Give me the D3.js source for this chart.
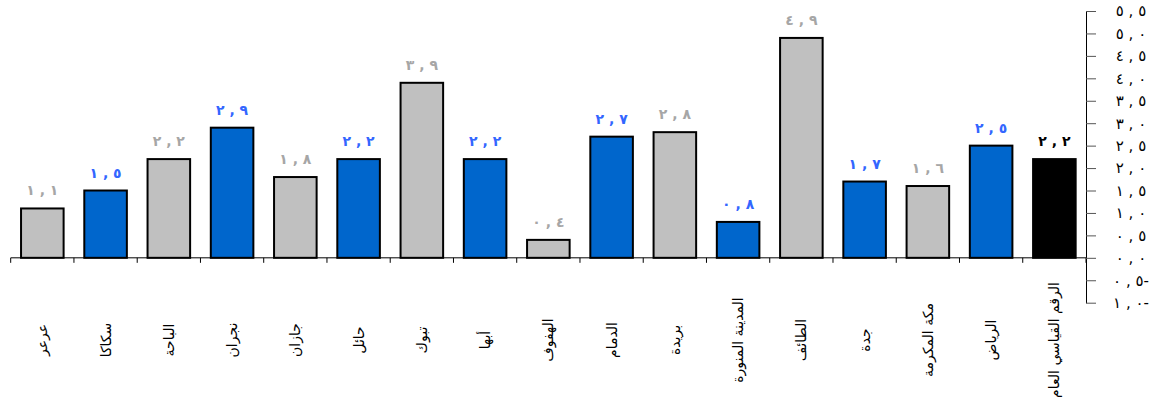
<!DOCTYPE html>
<html>
<head>
<meta charset="utf-8">
<script src="https://cdn.jsdelivr.net/npm/d3@7"></script>
<style>
  body { margin: 0; background: #fff; }
  svg { font-family: "DejaVu Sans", sans-serif; }
  .ltr { direction: ltr; unicode-bidi: bidi-override; }
</style>
</head>
<body>
<div id="chart"></div>
<script>
// data
const categories = ['عرعر', 'سكاكا', 'الباحة', 'نجران', 'جازان', 'حائل', 'تبوك', 'أبها', 'الهفوف',
  'الدمام', 'بريدة', 'المدينة المنورة', 'الطائف', 'جدة', 'مكة المكرمة', 'الرياض', 'الرقم القياسي العام'];
const values = [1.1, 1.5, 2.2, 2.9, 1.8, 2.2, 3.9, 2.2, 0.4, 2.7, 2.8, 0.8, 4.9, 1.7, 1.6, 2.5, 2.2];
const kinds = ['g', 'b', 'g', 'b', 'g', 'b', 'g', 'b', 'g', 'b', 'g', 'b', 'g', 'b', 'g', 'b', 'k'];
const yTicks = [-1, -0.5, 0, 0.5, 1, 1.5, 2, 2.5, 3, 3.5, 4, 4.5, 5, 5.5];

const fill = { g: '#c0c0c0', b: '#0066cc', k: '#000000' };
const labelColor = { g: '#a6a6a6', b: '#3366ff', k: '#000000' };

const width = 1157, height = 414;
const svg = d3.select('#chart').append('svg')
  .attr('width', width).attr('height', height);

const x = d3.scaleBand().domain(categories).range([10.7, 1086]).paddingInner(0.327).paddingOuter(0.1635);
const y = d3.scaleLinear().domain([-1, 5.5]).range([302.7, 11]);

// arabic numerals, comma decimal
const arDigits = '٠١٢٣٤٥٦٧٨٩';
function arNum(v) {
  const s = Math.abs(v).toFixed(1).replace(/\d/g, d => arDigits[+d]).replace('.', ' , ');
  return v < 0 ? s + '-' : s;
}

const rows = categories.map((c, i) => ({ c, v: values[i], k: kinds[i] }));

// bars
svg.selectAll('rect.bar')
  .data(rows).enter().append('rect')
    .attr('class', 'bar')
    .attr('x', d => x(d.c))
    .attr('y', d => y(d.v))
    .attr('width', x.bandwidth())
    .attr('height', d => y(0) - y(d.v))
    .attr('fill', d => fill[d.k])
    .attr('stroke', '#000')
    .attr('stroke-width', 2);

// value labels
svg.selectAll('text.val')
  .data(rows).enter().append('text')
    .attr('class', 'val ltr')
    .attr('x', d => x(d.c) + x.bandwidth() / 2)
    .attr('y', d => y(d.v) - 13)
    .attr('text-anchor', 'middle')
    .attr('font-size', 14)
    .attr('font-weight', 'bold')
    .attr('fill', d => labelColor[d.k])
    .text(d => arNum(d.v));

// x baseline + boundary ticks
const x0 = x.range()[0], x1 = x.range()[1];
svg.append('line')
  .attr('x1', x0).attr('x2', x1)
  .attr('y1', y(0)).attr('y2', y(0))
  .attr('stroke', '#000').attr('stroke-width', 1);
const bounds = categories.map(c => x(c) - x.step() * x.paddingInner() / 2).concat([x1]);
bounds[0] = x0;
svg.selectAll('line.xtick')
  .data(bounds).enter().append('line')
    .attr('class', 'xtick')
    .attr('x1', d => d).attr('x2', d => d)
    .attr('y1', y(0)).attr('y2', y(0) + 5)
    .attr('stroke', '#000');

// category labels, rotated (start of word at top)
svg.selectAll('text.cat')
  .data(rows).enter().append('text')
    .attr('class', 'cat')
    .attr('transform', d => `translate(${x(d.c) + x.bandwidth() / 2 + 5},340) rotate(-90)`)
    .attr('text-anchor', 'middle')
    .attr('font-size', 14)
    .attr('fill', '#000')
    .text(d => d.c);

// right y axis
const yAxis = d3.axisRight(y).tickValues(yTicks).tickSize(10).tickSizeOuter(0).tickFormat(arNum);
const gy = svg.append('g')
  .attr('transform', 'translate(1086,0)')
  .call(yAxis);
gy.select('.domain').attr('stroke', '#000');
gy.selectAll('.tick line').attr('stroke', '#555');
gy.selectAll('.tick text')
  .attr('class', 'ltr')
  .attr('x', 45)
  .attr('text-anchor', 'middle')
  .attr('font-size', 15)
  .attr('letter-spacing', 3)
  .attr('font-family', '"DejaVu Sans", sans-serif')
  .attr('fill', '#000');
</script>
</body>
</html>
